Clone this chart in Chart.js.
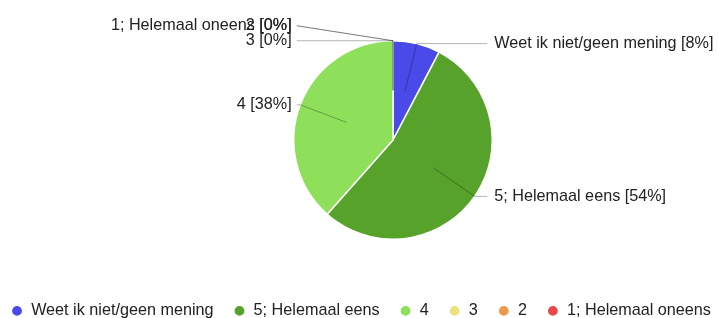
<!DOCTYPE html>
<html>
<head>
<meta charset="utf-8">
<script src="https://cdn.jsdelivr.net/npm/chart.js@4/dist/chart.umd.min.js"></script>
<style>
  html, body { margin: 0; padding: 0; background: #fff; }
  #wrap { width: 718px; height: 318px; }
</style>
</head>
<body>
<div id="wrap"><canvas id="myChart" width="718" height="318"></canvas></div>
<script>
// answers in the order the form lists them
const categories = ["Weet ik niet/geen mening", "5; Helemaal eens", "4", "3", "2", "1; Helemaal oneens"];
// number of responses per answer
const counts = [2, 14, 10, 0, 0, 0];
// percentages as printed next to the slices
const percentLabels = ["8%", "54%", "38%", "0%", "0%", "0%"];
const sliceColors = ["#4a4ae8", "#57a22b", "#8ee05a", "#eee27b", "#ee9a4a", "#e84848"];

const FONT = "Liberation Sans, Arial, sans-serif";
const FONT_SIZE = 16.2;

// put the pie where the original has it
const pieArea = {
    id: "pieArea",
    afterLayout(chart) {
        const ca = chart.chartArea;
        ca.left = 293; ca.right = 493; ca.top = 40; ca.bottom = 240;
        ca.width = 200; ca.height = 200;
    }
};

// outside labels with leader lines, like Google Forms draws them
const sliceLabels = {
    id: "sliceLabels",
    afterDraw(chart) {
        const ctx = chart.ctx;
        const arcs = chart.getDatasetMeta(0).data;
        const lineH = 15;
        const placed = [];
        const lines = [];
        const texts = [];
        arcs.forEach((arc, i) => {
            const p = arc.getProps(["x", "y", "startAngle", "endAngle", "outerRadius"], true);
            const mid = (p.startAngle + p.endAngle) / 2;
            const r = p.outerRadius;
            const cos = Math.cos(mid), sin = Math.sin(mid);
            const ax = p.x + cos * r * 0.5, ay = p.y + sin * r * 0.5;
            const ex = p.x + cos * r, ey = p.y + sin * r;
            const right = cos > 1e-6;
            let ty = ey;
            // labels sharing the same spot get pushed one line up
            if (placed.some(q => Math.abs(q.ex - ex) < 1 && Math.abs(q.ey - ey) < 1)) ty = ey - lineH;
            placed.push({ ex, ey });
            const lineEnd = right ? p.x + r - 5 : p.x - r + 3;
            const textX = right ? p.x + r + 2 : p.x - r - 2;
            lines.push([ax, ay, ex, ey, lineEnd, ty]);
            texts.push([categories[i] + " [" + percentLabels[i] + "]", textX, ty, right]);
        });
        ctx.save();
        ctx.strokeStyle = "rgba(0,0,0,0.3)";
        ctx.lineWidth = 1;
        lines.forEach(l => {
            ctx.beginPath();
            ctx.moveTo(l[0], l[1]);
            ctx.lineTo(l[2], l[3]);
            ctx.lineTo(l[4], l[5]);
            ctx.stroke();
        });
        ctx.font = FONT_SIZE + "px " + FONT;
        ctx.fillStyle = "#222";
        ctx.textBaseline = "middle";
        texts.forEach(t => {
            ctx.textAlign = t[3] ? "left" : "right";
            ctx.fillText(t[0], t[1], t[2]);
        });
        ctx.restore();
    }
};

const config = {
    type: "pie",
    data: {
        labels: categories,
        datasets: [{
            data: counts,
            backgroundColor: sliceColors,
            borderColor: "#fff",
            borderWidth: 1.5
        }]
    },
    options: {
        responsive: false,
        animation: false,
        events: [],
        // the pie is placed by pieArea; this padding only gives the one-row legend room
        layout: { padding: { left: -38, right: -42, bottom: -11 } },
        plugins: {
            legend: {
                position: "bottom",
                labels: {
                    usePointStyle: true,
                    pointStyle: "circle",
                    boxWidth: 12,
                    boxHeight: 8,
                    padding: 20,
                    color: "#222",
                    font: { family: FONT, size: FONT_SIZE }
                }
            },
            tooltip: { enabled: false }
        }
    },
    plugins: [pieArea, sliceLabels]
};

new Chart(document.getElementById("myChart"), config);
</script>
</body>
</html>
